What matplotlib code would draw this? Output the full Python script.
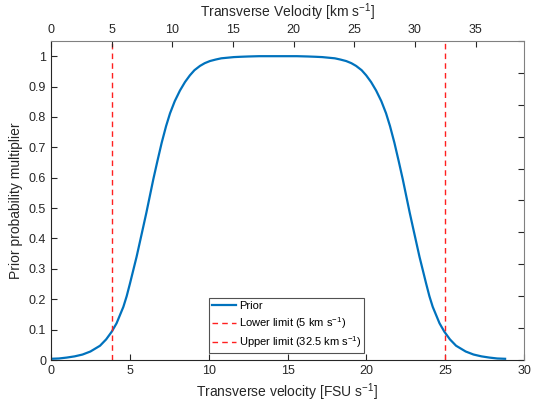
import numpy as np
import matplotlib.pyplot as plt

plt.rcParams['font.family'] = ['Liberation Sans', 'DejaVu Sans']
plt.rcParams['mathtext.default'] = 'regular'

# prior multiplier vs transverse velocity (FSU/s)
v_fsu = [0.0, 0.5, 1.0, 1.5, 2.0, 2.5, 3.11, 3.5, 3.85, 4.16, 4.59, 4.8, 5.01,
         5.43, 5.85, 6.05, 6.23, 6.49, 6.75, 7.02, 7.3, 7.55, 7.85, 8.18, 8.5,
         8.81, 9.1, 9.45, 9.75, 10.08, 10.45, 10.8, 11.2, 11.6, 12.0, 12.5,
         13.2, 14.4, 15.6, 16.3, 16.8, 17.2, 17.6, 18.0, 18.35, 18.72, 19.05,
         19.35, 19.7, 19.99, 20.3, 20.62, 20.95, 21.25, 21.5, 21.78, 22.05,
         22.31, 22.57, 22.75, 22.95, 23.37, 23.79, 24.0, 24.21, 24.64, 24.95,
         25.3, 25.69, 26.3, 26.8, 27.3, 27.8, 28.3, 28.8]
prior = [0.004, 0.005, 0.008, 0.012, 0.018, 0.028, 0.047, 0.068, 0.093, 0.121,
         0.175, 0.21, 0.252, 0.34, 0.438, 0.485, 0.53, 0.595, 0.655, 0.715,
         0.77, 0.812, 0.852, 0.887, 0.915, 0.937, 0.954, 0.968, 0.977, 0.984,
         0.989, 0.993, 0.995, 0.997, 0.998, 0.999, 1.0, 1.0, 1.0, 0.999, 0.998,
         0.997, 0.995, 0.993, 0.989, 0.984, 0.977, 0.968, 0.954, 0.937, 0.915,
         0.887, 0.852, 0.812, 0.77, 0.715, 0.655, 0.595, 0.53, 0.485, 0.438,
         0.34, 0.252, 0.21, 0.175, 0.121, 0.093, 0.068, 0.047, 0.028, 0.018,
         0.012, 0.008, 0.005, 0.004]

km_per_fsu = 1.3
lower_kms = 5.0
upper_kms = 32.5

fig = plt.figure(figsize=(5.39, 4.12), dpi=100)
ax = fig.add_axes([0.0946, 0.1262, 0.8776, 0.7743])

ax.plot(v_fsu, prior, color='#0072BD', lw=1.6, label='Prior')
ax.axvline(lower_kms / km_per_fsu, color='#FF2020', lw=1, ls=(0, (4, 3)),
           label='Lower limit (5 km s$^{-1}$)')
ax.axvline(upper_kms / km_per_fsu, color='#FF2020', lw=1, ls=(0, (4, 3)),
           label='Upper limit (32.5 km s$^{-1}$)')

ax.set_xlim(0, 30)
ax.set_ylim(0, 1.05)
ax.set_xticks(np.arange(0, 31, 5))
ax.set_yticks(np.arange(0, 1.01, 0.1))
ax.set_yticklabels(['0', '0.1', '0.2', '0.3', '0.4', '0.5', '0.6', '0.7',
                    '0.8', '0.9', '1'])
ax.tick_params(direction='in', length=4, labelsize=9, colors='#262626')
ax.set_xlabel('Transverse velocity [FSU s$^{-1}$]', fontsize=10,
              color='#262626', labelpad=3)
ax.set_ylabel('Prior probability multiplier', fontsize=10,
              color='#262626', labelpad=4)
for side in ['left', 'bottom']:
    ax.spines[side].set_color('#262626')
for side in ['top', 'right']:
    ax.spines[side].set_visible(False)

# second axes: km/s on top, unlabeled ticks on the right
ax2 = fig.add_axes(ax.get_position(), frameon=True)
ax2.patch.set_visible(False)
ax2.set_xlim(0, 30 * km_per_fsu)
ax2.set_ylim(0, 1)
ax2.xaxis.tick_top()
ax2.xaxis.set_label_position('top')
ax2.yaxis.tick_right()
ax2.set_xticks(np.arange(0, 36, 5))
ax2.set_yticks(np.arange(0, 1.01, 0.1))
ax2.set_yticklabels([])
ax2.tick_params(direction='in', length=4, labelsize=9, colors='#262626')
ax2.set_xlabel('Transverse Velocity [km s$^{-1}$]', fontsize=10,
               color='#262626', labelpad=5)
for side in ['top', 'right']:
    ax2.spines[side].set_color('#808080')
for side in ['left', 'bottom']:
    ax2.spines[side].set_visible(False)

leg = ax.legend(loc='lower center', bbox_to_anchor=(0.498, 0.022),
                fontsize=8, frameon=True, fancybox=False, edgecolor='#262626',
                handlelength=2.2, handletextpad=0.2, borderpad=0.25,
                labelspacing=0.35, borderaxespad=0)
leg.get_frame().set_linewidth(0.8)

fig.savefig('out.png', dpi=100)
